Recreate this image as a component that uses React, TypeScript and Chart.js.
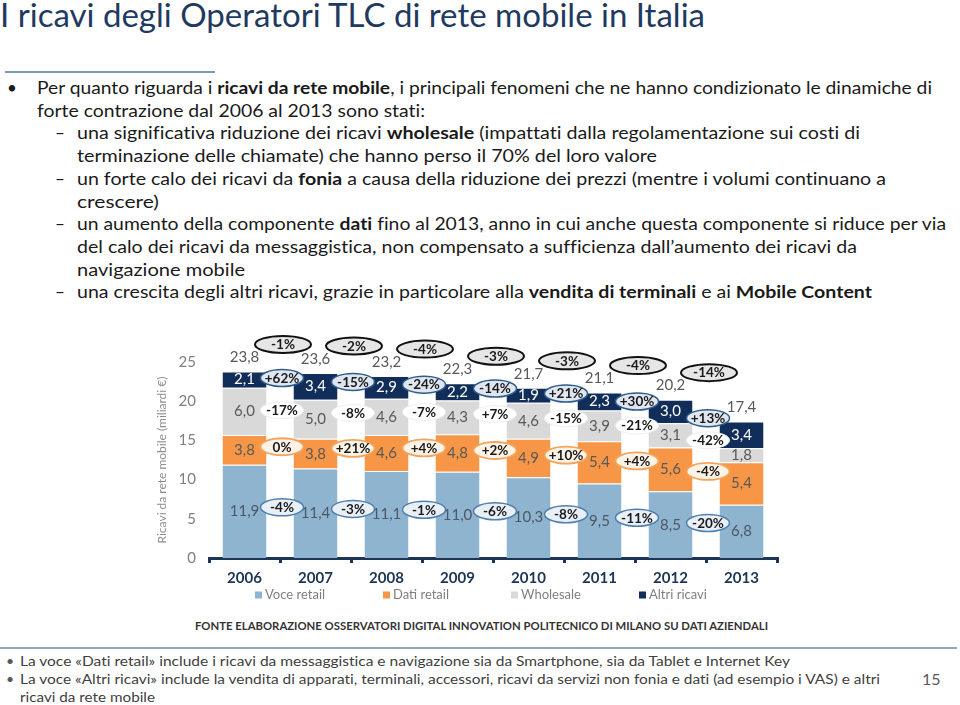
import React, { useEffect, useRef } from "react";
import { Chart, registerables } from "chart.js";

Chart.register(...registerables);

const FONT = "Lato, 'Noto Sans', sans-serif";
const NAVY = "#1c3455";

const years = ["2006", "2007", "2008", "2009", "2010", "2011", "2012", "2013"];
const voceRetail = [11.9, 11.4, 11.1, 11.0, 10.3, 9.5, 8.5, 6.8];
const datiRetail = [3.8, 3.8, 4.6, 4.8, 4.9, 5.4, 5.6, 5.4];
const wholesale = [6.0, 5.0, 4.6, 4.3, 4.6, 3.9, 3.1, 1.8];
const altriRicavi = [2.1, 3.4, 2.9, 2.2, 1.9, 2.3, 3.0, 3.4];
const totals = [23.8, 23.6, 23.2, 22.3, 21.7, 21.1, 20.2, 17.4];

const voceChange = ["-4%", "-3%", "-1%", "-6%", "-8%", "-11%", "-20%"];
const datiChange = ["0%", "+21%", "+4%", "+2%", "+10%", "+4%", "-4%"];
const wholesaleChange = ["-17%", "-8%", "-7%", "+7%", "-15%", "-21%", "-42%"];
const altriChange = ["+62%", "-15%", "-24%", "-14%", "+21%", "+30%", "+13%"];
const totalChange = ["-1%", "-2%", "-4%", "-3%", "-3%", "-4%", "-14%"];

const yTicks = [0, 5, 10, 15, 20, 25];

const seriesLabels = ["Voce retail", "Dati retail", "Wholesale", "Altri ricavi"];
const seriesColors = ["#8fb4d0", "#f79646", "#d9d9d9", "#112e5a"];
const valueColors = ["#4b5866", "#595959", "#595959", "#ffffff"];
const ellipseStyles = [
  { fill: "#e8eff6", stroke: "#4f7fae", lw: 1.5 },
  { fill: "#fdf2e6", stroke: "#f2a55a", lw: 1.8 },
  { fill: "#ffffff", stroke: "#eeeeee", lw: 1 },
  { fill: "#dfe6ef", stroke: "#2e5c8a", lw: 1.5 },
];

const fmt = (v: number) => v.toFixed(1).replace(".", ",");

function drawEllipse(ctx: CanvasRenderingContext2D, x: number, y: number, rx: number, ry: number, s: { fill: string; stroke: string; lw: number }) {
  ctx.beginPath();
  ctx.ellipse(x, y, rx, ry, 0, 0, Math.PI * 2);
  ctx.fillStyle = s.fill;
  ctx.fill();
  ctx.lineWidth = s.lw;
  ctx.strokeStyle = s.stroke;
  ctx.stroke();
}

const annotPlugin = {
  id: "annot",
  afterDatasetsDraw(chart: any) {
    const ctx: CanvasRenderingContext2D = chart.ctx;
    const metas = [0, 1, 2, 3].map((i) => chart.getDatasetMeta(i));
    const vals = [voceRetail, datiRetail, wholesale, altriRicavi];
    const changes = [voceChange, datiChange, wholesaleChange, altriChange];
    const pts = metas.map((m: any) => m.data.map((el: any) => el.getProps(["x", "y", "base"], true)));
    ctx.save();
    ctx.textAlign = "center";
    ctx.textBaseline = "middle";
    ctx.font = `15px ${FONT}`;
    pts.forEach((arr: any[], i: number) => {
      arr.forEach((p: any, j: number) => {
        ctx.fillStyle = valueColors[i];
        ctx.fillText(fmt(vals[i][j]), p.x, (p.y + p.base) / 2);
      });
    });
    const top = pts[3];
    top.forEach((p: any, j: number) => {
      ctx.fillStyle = "#595959";
      ctx.fillText(fmt(totals[j]), p.x, p.y - 14);
    });
    ctx.font = `bold 13.5px ${FONT}`;
    changes.forEach((arr, i) => {
      const d = pts[i];
      arr.forEach((txt, j) => {
        const a = d[j];
        const b = d[j + 1];
        const x = (a.x + b.x) / 2 + 2;
        const y = ((a.y + a.base) / 2 + (b.y + b.base) / 2) / 2 - 5;
        drawEllipse(ctx, x, y, 21.5, 8.5, ellipseStyles[i]);
        ctx.fillStyle = "#1a1a1a";
        ctx.fillText(txt, x, y + 0.5);
      });
    });
    totalChange.forEach((txt, j) => {
      const a = top[j];
      const b = top[j + 1];
      const x = (a.x + b.x) / 2 + 3;
      const y = a.y - 27;
      drawEllipse(ctx, x, y, 28, 8.5, { fill: "#e6e6e6", stroke: "#111111", lw: 2 });
      ctx.fillStyle = "#1a1a1a";
      ctx.fillText(txt, x, y + 0.5);
    });
    ctx.restore();
  },
  afterDraw(chart: any) {
    const ctx: CanvasRenderingContext2D = chart.ctx;
    const left = chart.chartArea.left;
    ctx.save();
    ctx.font = `13px ${FONT}`;
    ctx.textBaseline = "middle";
    ctx.textAlign = "left";
    chart.data.datasets.forEach((ds: any, i: number) => {
      const x = left + 46 + i * 128;
      const y = 265;
      ctx.fillStyle = ds.backgroundColor;
      ctx.fillRect(x, y - 3.5, 7, 7);
      ctx.fillStyle = "#7f7f7f";
      ctx.fillText(ds.label, x + 10, y);
    });
    ctx.restore();
  },
};

type Seg = [string, boolean?];

function Line({ x, y, segs, w, size = 17, fill = "#1a1a1a" }: { x: number; y: number; segs: Seg[]; w?: number; size?: number; fill?: string }) {
  const extra: any = w ? { textLength: w, lengthAdjust: "spacingAndGlyphs" } : {};
  return (
    <text x={x} y={y} fontSize={size} fill={fill} style={{ whiteSpace: "pre" }} {...extra}>
      {segs.map((s, i) => (
        <tspan key={i} fontWeight={s[1] ? 700 : 400}>
          {s[0]}
        </tspan>
      ))}
    </text>
  );
}

export default function App() {
  const ref = useRef<HTMLCanvasElement>(null);

  useEffect(() => {
    const data = [voceRetail, datiRetail, wholesale, altriRicavi];
    const chart = new Chart(ref.current as HTMLCanvasElement, {
      type: "bar",
      data: {
        labels: years,
        datasets: data.map((d, i) => ({
          label: seriesLabels[i],
          data: d,
          backgroundColor: seriesColors[i],
          borderColor: "rgba(255,255,255,0.8)",
          borderWidth: { top: 1, right: 0, bottom: 0, left: 0 },
          borderSkipped: false,
          barPercentage: 0.62,
          categoryPercentage: 1,
        })),
      } as any,
      options: {
        responsive: false,
        animation: false,
        events: [],
        layout: { padding: { top: 32, right: 13, left: 0, bottom: 0 } },
        plugins: { legend: { display: false }, tooltip: { enabled: false } },
        scales: {
          x: {
            stacked: true,
            grid: { display: true, drawOnChartArea: false, drawTicks: true, tickLength: 5, color: NAVY, lineWidth: 3, offset: true },
            border: { display: true, color: NAVY, width: 3 },
            ticks: { color: NAVY, font: { family: FONT, size: 15, weight: "bold" }, padding: 6 },
            afterFit: (s: any) => {
              s.height = 52;
            },
          },
          y: {
            stacked: true,
            min: 0,
            max: 25,
            grid: { display: false, drawTicks: false },
            border: { display: false },
            ticks: { color: "#7f7f7f", font: { family: FONT, size: 15 }, padding: 13, stepSize: 5 },
            title: {
              display: true,
              text: "Ricavi da rete mobile (miliardi €)",
              color: "#8c8c8c",
              font: { family: FONT, size: 12 },
              padding: { top: 5, bottom: 0 },
            },
            afterBuildTicks: (s: any) => {
              s.ticks = yTicks.map((v) => ({ value: v }));
            },
            afterFit: (s: any) => {
              s.width = 59;
            },
          },
        },
      } as any,
      plugins: [annotPlugin],
    });
    return () => chart.destroy();
  }, []);

  const lh = 22.7;
  const b0 = 94;
  return (
    <div style={{ position: "absolute", left: 0, top: 0, width: 960, height: 705, background: "#ffffff", overflow: "hidden" }}>
      <svg width={960} height={705} style={{ position: "absolute", left: 0, top: 0, fontFamily: FONT, fontVariantLigatures: "none" }}>
        <Line x={0} y={27} size={33} fill="#1f3a60" w={705} segs={[["I ricavi degli Operatori TLC di rete mobile in Italia"]]} />
        <line x1={5} y1={72} x2={215} y2={72} stroke="#7b9cb0" strokeWidth={2} />

        <Line x={7} y={b0} segs={[["•"]]} />
        <Line x={37} y={b0} w={895} segs={[["Per quanto riguarda i "], ["ricavi da rete mobile", true], [", i principali fenomeni che ne hanno condizionato le dinamiche di"]]} />
        <Line x={37} y={b0 + lh} w={388} segs={[["forte contrazione dal 2006 al 2013 sono stati:"]]} />
        <Line x={55} y={b0 + 2 * lh} segs={[["–"]]} />
        <Line x={77} y={b0 + 2 * lh} w={783} segs={[["una significativa riduzione dei ricavi "], ["wholesale", true], [" (impattati dalla regolamentazione sui costi di"]]} />
        <Line x={77} y={b0 + 3 * lh} w={580} segs={[["terminazione delle chiamate) che hanno perso il 70% del loro valore"]]} />
        <Line x={55} y={b0 + 4 * lh} segs={[["–"]]} />
        <Line x={77} y={b0 + 4 * lh} w={809} segs={[["un forte calo dei ricavi da "], ["fonia", true], [" a causa della riduzione dei prezzi (mentre i volumi continuano a"]]} />
        <Line x={77} y={b0 + 5 * lh} w={82} segs={[["crescere)"]]} />
        <Line x={55} y={b0 + 6 * lh} segs={[["–"]]} />
        <Line x={77} y={b0 + 6 * lh} w={869} segs={[["un aumento della componente "], ["dati", true], [" fino al 2013, anno in cui anche questa componente si riduce per via"]]} />
        <Line x={77} y={b0 + 7 * lh} w={780} segs={[["del calo dei ricavi da messaggistica, non compensato a sufficienza dall’aumento dei ricavi da"]]} />
        <Line x={77} y={b0 + 8 * lh} w={168} segs={[["navigazione mobile"]]} />
        <Line x={55} y={b0 + 9 * lh} segs={[["–"]]} />
        <Line x={77} y={b0 + 9 * lh} w={795} segs={[["una crescita degli altri ricavi, grazie in particolare alla "], ["vendita di terminali", true], [" e ai "], ["Mobile Content", true]]} />

        <Line x={195} y={630} size={12} fill="#333333" w={573} segs={[["FONTE ELABORAZIONE OSSERVATORI DIGITAL INNOVATION POLITECNICO DI MILANO SU DATI AZIENDALI", true]]} />
        <line x1={0} y1={648} x2={957} y2={648} stroke="#8eaabb" strokeWidth={2} />

        <Line x={6} y={666} size={14} fill="#595959" segs={[["•"]]} />
        <Line x={20} y={666} size={14} fill="#404040" w={770} segs={[["La voce «Dati retail» include i ricavi da messaggistica e navigazione sia da Smartphone, sia da Tablet e Internet Key"]]} />
        <Line x={6} y={684} size={14} fill="#595959" segs={[["•"]]} />
        <Line x={20} y={684} size={14} fill="#404040" w={860} segs={[["La voce «Altri ricavi» include la vendita di apparati, terminali, accessori, ricavi da servizi non fonia e dati (ad esempio i VAS) e altri"]]} />
        <Line x={20} y={702} size={14} fill="#404040" w={135} segs={[["ricavi da rete mobile"]]} />
        <Line x={922} y={685} size={16} fill="#595959" segs={[["15"]]} />
      </svg>
      <canvas ref={ref} width={640} height={280} style={{ position: "absolute", left: 150, top: 330, width: 640, height: 280 }} />
    </div>
  );
}
